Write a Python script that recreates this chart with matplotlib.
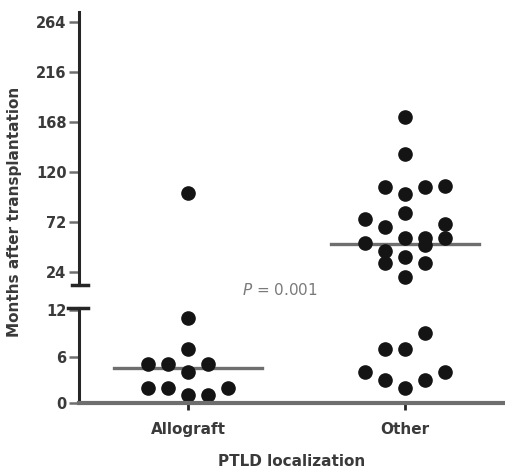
import numpy as np
import matplotlib
matplotlib.use("Agg")
import matplotlib.pyplot as plt

# data (months after transplantation)
groups = ["Allograft", "Other"]
allograft_months = [100, 11, 7, 5, 5, 5, 4, 2, 2, 2, 1, 1]
allograft_slot = [0, 0, 0, -2, -1, 1, 0, -2, -1, 2, 0, 1]
other_months = [173, 137, 106, 106, 107, 99, 81, 75, 67, 70,
                52, 57, 57, 50, 57, 44, 33, 38, 33, 19,
                9, 7, 7, 4, 4, 3, 3, 2]
other_slot = [0, 0, -1, 1, 2, 0, 0, -2, -1, 2,
              -2, 0, 1, 1, 2, -1, -1, 0, 1, 0,
              1, -1, 0, -2, 2, -1, 1, 0]
upper_ticks = [24, 72, 120, 168, 216, 264]
lower_ticks = [0, 6, 12]
p_text = "= 0.001"

W, H = 505, 471
fig = plt.figure(figsize=(W / 100, H / 100), dpi=100)

def box(x0, y0, x1, y1):
    return [x0 / W, 1 - y1 / H, (x1 - x0) / W, (y1 - y0) / H]

ax_top = fig.add_axes(box(79, 12, 505, 285))
ax_bot = fig.add_axes(box(79, 308, 505, 403))

dark = "#262626"
grey = "#6e6e6e"
txt = "#3a3a3a"
slot_w = 0.092
cut = 12

for i, (vals, slots) in enumerate([(allograft_months, allograft_slot),
                                   (other_months, other_slot)]):
    vals = np.array(vals)
    xs = i + np.array(slots) * slot_w
    hi = vals > cut
    ax_top.plot(xs[hi], vals[hi], "o", color="#141414", ms=9.5, mec="#141414")
    ax_bot.plot(xs[~hi], vals[~hi], "o", color="#141414", ms=9.5, mec="#141414")
    med = np.median(vals)
    target = ax_top if med > cut else ax_bot
    target.plot([i - 0.34, i + 0.34], [med, med], color=grey, lw=2.4, zorder=1)

for ax in (ax_top, ax_bot):
    ax.set_xlim(-0.502, 1.46)
    for s in ("top", "right"):
        ax.spines[s].set_visible(False)
    ax.spines["left"].set_color(dark)
    ax.spines["left"].set_linewidth(2.2)
    ax.tick_params(axis="y", direction="out", length=7, width=1.8, color=grey,
                   labelsize=10.5, labelcolor=txt, pad=2)
    for lab in ax.get_yticklabels():
        lab.set_fontweight("bold")
    ax.patch.set_alpha(0)

ax_top.set_ylim(11.52, 273.6)
ax_top.set_yticks(upper_ticks)
ax_top.set_yticklabels([str(t) for t in upper_ticks], fontweight="bold")
ax_top.spines["bottom"].set_visible(False)
ax_top.set_xticks([])

ax_bot.set_ylim(0, 12.26)
ax_bot.set_yticks(lower_ticks)
ax_bot.set_yticklabels([str(t) for t in lower_ticks], fontweight="bold")
ax_bot.spines["bottom"].set_color(grey)
ax_bot.spines["bottom"].set_linewidth(3)
ax_bot.set_xticks([0, 1])
ax_bot.set_xticklabels(groups, fontweight="bold")
ax_bot.tick_params(axis="x", direction="out", length=5, width=2, color=dark,
                   labelsize=11, labelcolor=txt, pad=9)

# break marks
ax_top.plot([-7 / 426, 9 / 426], [0, 0], transform=ax_top.transAxes,
            color=dark, lw=2.5, clip_on=False)
ax_bot.plot([-11 / 426, 9 / 426], [1, 1], transform=ax_bot.transAxes,
            color=dark, lw=2.5, clip_on=False)

fig.text(15 / W, 1 - 212 / H, "Months after transplantation", rotation=90,
         ha="center", va="center", fontsize=11, fontweight="bold", color=txt)
fig.text(292 / W, 1 - 461 / H, "PTLD localization", ha="center", va="center",
         fontsize=11, fontweight="bold", color=txt)
fig.text(242 / W, 1 - 290 / H, "$P$ " + p_text, ha="left", va="center",
         fontsize=11, color="#7a7a7a")

fig.savefig("out.png", dpi=100)
